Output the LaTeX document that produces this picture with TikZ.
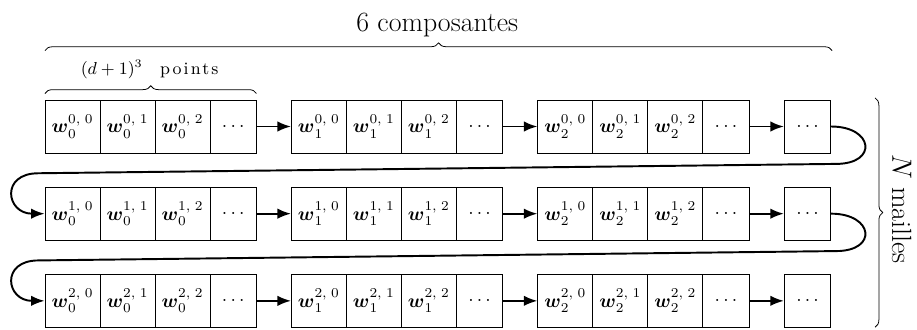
\documentclass[tikz,border=0pt]{standalone}
\usepackage{amsmath}
\usepackage{amssymb}
\usepackage{fontspec}
\setmainfont{Latin Modern Roman}
\usepackage{tikz}
\usetikzlibrary{arrows.meta}
\usetikzlibrary{decorations.pathreplacing}

\begin{document}
\begin{tikzpicture}[x=1cm,y=1cm,
    cell/.style={draw=black, thin, minimum width=1cm, minimum height=0.96cm, inner sep=0pt},
    dotcell/.style={draw=black, thin, minimum width=0.845cm, minimum height=0.96cm, inner sep=0pt},
    flow/.style={black, line width=1pt, -{Latex[length=7pt,width=5.4pt]}},
    wrap/.style={black, line width=1pt, -{Latex[length=7pt,width=5.4pt]}},
    bracket/.style={black, thin, decorate, decoration={brace, amplitude=4pt}}]
       \useasboundingbox (0,0) rectangle (16.673,-5.982);

       % les trois mailles, chacune avec ses composantes
       \foreach \r in {0,1,2} {
         \foreach \g in {0,1,2} {
           \foreach \k in {0,1,2} {
             \node[cell] (w\r\g\k) at ({0.818+4.48*\g+0.5+\k}, {-2.30-1.585*\r}) {$\boldsymbol{w}_{\g}^{\r,\;\k}$};
           }
           \node[dotcell] (d\r\g) at ({0.818+4.48*\g+3.4225}, {-2.30-1.585*\r}) {$\ldots$};
         }
         \node[dotcell] (e\r) at (14.6825, {-2.30-1.585*\r}) {$\ldots$};
         \draw[flow] (d\r0.east) -- (w\r10.west);
         \draw[flow] (d\r1.east) -- (w\r20.west);
         \draw[flow] (d\r2.east) -- (e\r.west);
       }

       % retour a la ligne
       \coordinate (r0) at (15.2,-2.98);
       \coordinate (l0) at (0.70,-3.15);
       \coordinate (r1) at (15.2,-4.565);
       \coordinate (l1) at (0.70,-4.735);
       \draw[wrap] (e0.east) .. controls +(0.77,0) and +(0.77,0) .. (r0) -- (l0) .. controls +(-0.7,0) and +(-0.7,0) .. (w100.west);
       \draw[wrap] (e1.east) .. controls +(0.77,0) and +(0.77,0) .. (r1) -- (l1) .. controls +(-0.7,0) and +(-0.7,0) .. (w200.west);

       % accolades
       \draw[bracket] (0.818,-0.92) -- (15.13,-0.92);
       \node[anchor=base] (comp) at (7.95,-0.58) {\Large 6 composantes};
       \draw[bracket] (0.818,-1.70) -- (4.663,-1.70);
       \node[anchor=base] (pts) at (2.72,-1.36) {\small $(d+1)^3$\quad{\addfontfeature{LetterSpace=12}points}};
       \draw[bracket] (15.91,-1.78) -- (15.91,-5.95);
       \node[rotate=-90] (mail) at (16.40,-3.80) {\Large $N$ mailles};
\end{tikzpicture}
\end{document}
